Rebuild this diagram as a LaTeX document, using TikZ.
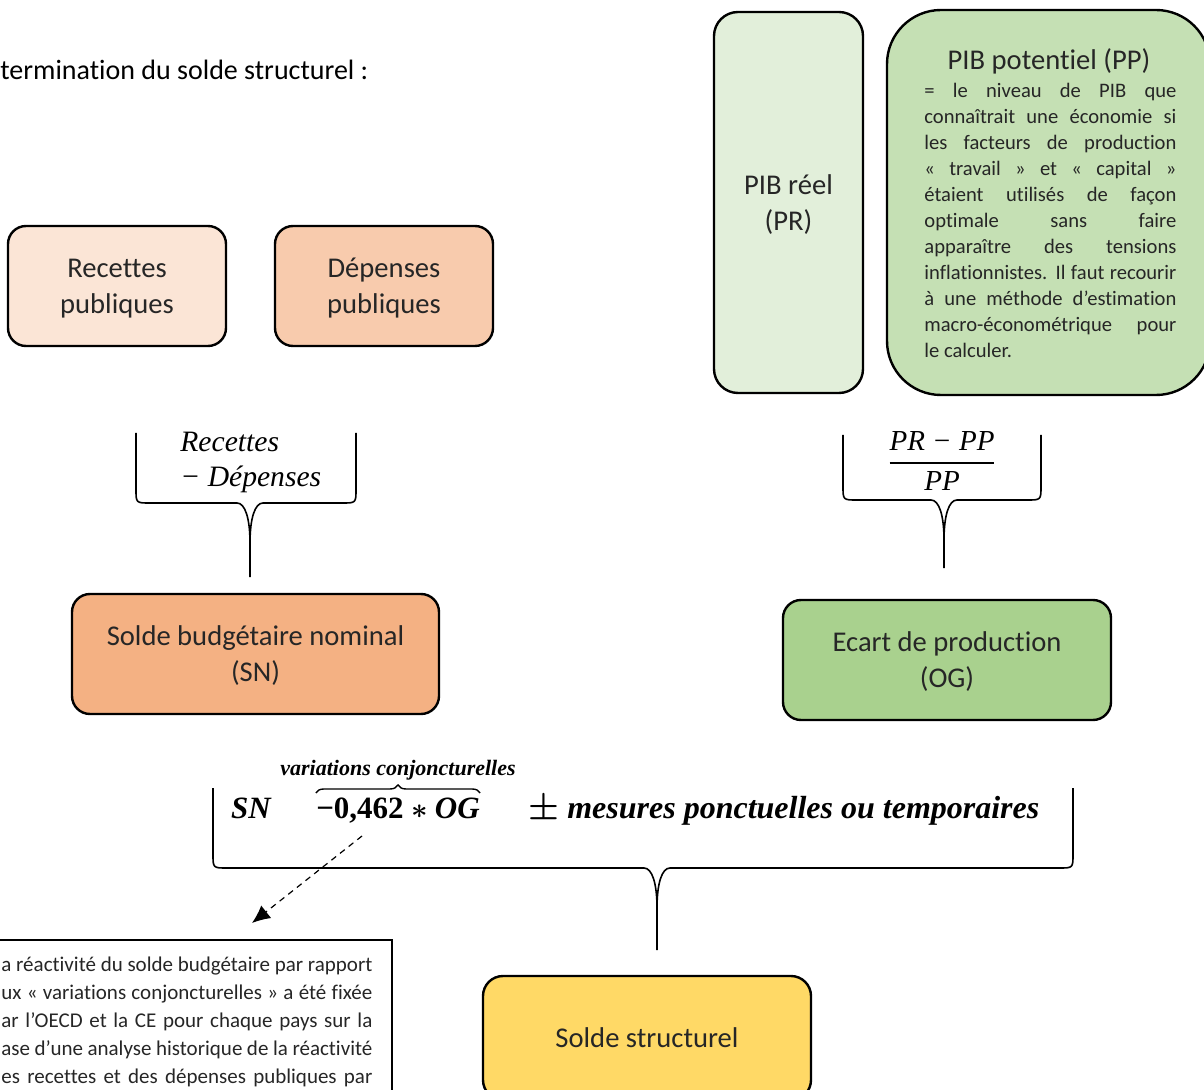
\documentclass[tikz,border=0pt]{standalone}
\usepackage{amsmath}
\usepackage{fontspec}
\setmainfont{Carlito}[Ligatures=NoCommon]
\newfontfamily\formule{Liberation Serif}
\usetikzlibrary{arrows,arrows.meta,positioning,decorations.pathreplacing}
\definecolor{recettes}{HTML}{FBE5D6}
\definecolor{depenses}{HTML}{F8CBAD}
\definecolor{nominal}{HTML}{F4B183}
\definecolor{reel}{HTML}{E2EFDA}
\definecolor{potentiel}{HTML}{C5E0B4}
\definecolor{ecart}{HTML}{A9D18E}
\definecolor{structurel}{HTML}{FFD966}
\definecolor{texte}{HTML}{262626}
\tikzset{font=\fontsize{14.3}{18}\selectfont}
\tikzset{every node/.append style={transform shape=false}}
\tikzset{boite/.style={draw, line width=1.2pt, rounded corners=9pt, align=center,
    inner sep=0pt, text depth=0pt, text=texte}}
\tikzset{formule/.style={inner sep=0pt, font=\formule\itshape\fontsize{14.8}{17.5}\selectfont}}
\tikzset{gras/.style={inner sep=0pt, font=\formule\bfseries\itshape\fontsize{15.5}{18}\selectfont\boldmath}}
\newcommand{\sanscoupure}{\hyphenpenalty=10000\relax\exhyphenpenalty=10000\relax}
% accolade : gauche, droite, haut, trait horizontal, pointe x, bas
\newcommand{\accolade}[6]{%
  \draw[line width=0.8pt] (#1,#3) -- (#1,#4-14) .. controls (#1,#4) .. (#1+14,#4)
    -- (#5-13,#4) .. controls (#5-5,#4) and (#5,#4+15) .. (#5,#4+40) -- (#5,#6);
  \draw[line width=0.8pt] (#2,#3) -- (#2,#4-14) .. controls (#2,#4) .. (#2-14,#4)
    -- (#5+13,#4) .. controls (#5+5,#4) and (#5,#4+15) .. (#5,#4+40);
}

\begin{document}
\begin{tikzpicture}[x=0.5pt,y=-0.5pt]
  \useasboundingbox (0,0) rectangle (1204,1090);
  \clip (0,0) rectangle (1204,1090);

  \node (titre) [anchor=base west, inner sep=0pt, font=\fontsize{14}{17}\selectfont] at (0,80)
    {termination du solde structurel :};

  % boites du haut
  \node (rec) [boite, fill=recettes, minimum width=109pt, minimum height=60pt] at (117,286)
    {Recettes\\publiques};
  \node (dep) [boite, fill=depenses, minimum width=109pt, minimum height=60pt] at (384,286)
    {Dépenses\\publiques};
  \node (reel) [boite, fill=reel, rounded corners=12pt, minimum width=74.5pt, minimum height=190.5pt]
    at (788.5,202.5) {PIB réel\\(PR)};
  \node (pot) [boite, fill=potentiel, rounded corners=27pt, minimum width=161.5pt, minimum height=192.5pt]
    at (1048.5,202.5) {};
  \node (pottitre) [inner sep=0pt, text=texte] at (1049,61) {PIB potentiel (PP)};
  \node (potdesc) [anchor=north west, text width=126pt, align=justify, inner sep=0pt, text=texte,
    font=\fontsize{10.3}{13}\selectfont] at (924,83)
    {\sanscoupure = le niveau de PIB que\linebreak connaîtrait une économie si\linebreak
     les facteurs de production\linebreak «~travail~» et «~capital~»\linebreak
     étaient utilisés de façon\linebreak optimale sans faire\linebreak
     apparaître des tensions\linebreak inflationnistes. Il faut recourir\linebreak
     à une méthode d’estimation\linebreak macro-économétrique pour\linebreak le calculer.};

  % calculs
  \node (diff) [formule, anchor=west, align=left] at (180,462) {Recettes\\− Dépenses};
  \node (ratio) [formule, font=\formule\itshape\fontsize{14.5}{17}\selectfont] at (942,461)
    {$\genfrac{}{}{1pt}{0}{\text{PR − PP}}{\text{PP}}$};
  \accolade{136}{356}{433}{503}{250}{577}
  \accolade{843}{1041}{435}{500}{944}{568}

  % boites du milieu
  \node (nominal) [boite, fill=nominal, minimum width=183.5pt, minimum height=60pt] at (255.5,654)
    {Solde budgétaire nominal\\(SN)};
  \node (ecart) [boite, fill=ecart, minimum width=164pt, minimum height=60pt] at (947,660)
    {Ecart de production\\(OG)};

  % formule du solde structurel
  \node (sn) [gras, anchor=base] at (251,818) {SN};
  \node (og) [gras, anchor=base] at (398,818)
    {$\text{\upshape −0,462}\ast\text{OG}$};
  \draw[line width=0.7pt, decorate, decoration={brace, amplitude=4pt}]
    ([yshift=2pt]og.north west) -- ([yshift=2pt]og.north east);
  \node (variations) [gras, font=\formule\bfseries\itshape\fontsize{11}{13}\selectfont] at (398,770)
    {variations conjoncturelles};
  \node (mesures) [gras, anchor=base west, font=\formule\bfseries\itshape\fontsize{16}{18}\selectfont\boldmath]
    at (528,818) {$\pm$ mesures ponctuelles ou temporaires};
  \accolade{213}{1073}{788}{868}{657}{950}

  \coordinate (depart) at (362,836);
  \coordinate (pointe) at (252,923);
  \draw[dashed, dash pattern=on 3pt off 2.5pt, line width=0.6pt, -{Latex[length=9pt,width=8pt]}]
    (depart) -- (pointe);

  % note
  \draw[line width=0.6pt] (-10,940) rectangle (392,1110);
  \node (note) [anchor=north west, text width=185.5pt, align=justify, inner sep=0pt, text=texte,
    font=\fontsize{10.5}{14}\selectfont] at (1,957)
    {\sanscoupure
     a réactivité du solde budgétaire par rapport\linebreak
     ux «~variations conjoncturelles~» a été fixée\linebreak
     ar l’OECD et la CE pour chaque pays sur la\linebreak
     ase d’une analyse historique de la réactivité\linebreak
     \makebox[\linewidth][s]{es recettes et des dépenses publiques par}};

  \node (structurel) [boite, fill=structurel, rounded corners=10pt, minimum width=164pt, minimum height=62pt]
    at (647,1038) {Solde structurel};
\end{tikzpicture}
\end{document}
